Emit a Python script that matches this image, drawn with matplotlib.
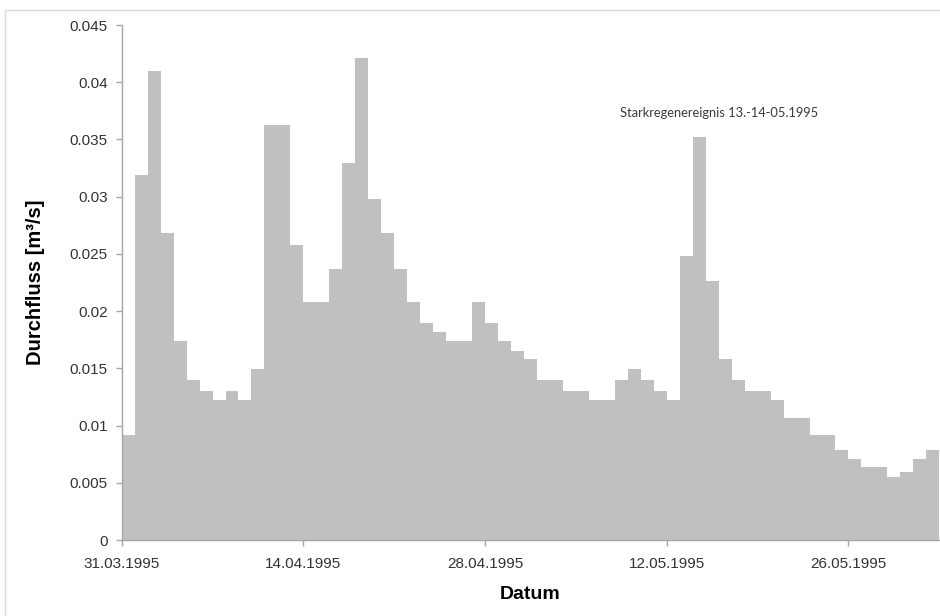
import numpy as np
import pandas as pd
import matplotlib
matplotlib.use('Agg')
import matplotlib.pyplot as plt
import matplotlib.dates as mdates
from matplotlib.patches import Rectangle

# daily discharge, 31.03.1995 - 01.06.1995
start_date = '1995-03-31'
durchfluss = [0.0092, 0.0319, 0.0410, 0.0268, 0.0174, 0.0140, 0.0130, 0.0122, 0.0130, 0.0122,
              0.0149, 0.0363, 0.0363, 0.0258, 0.0208, 0.0208, 0.0237, 0.0329, 0.0421, 0.0298,
              0.0268, 0.0237, 0.0208, 0.0190, 0.0182, 0.0174, 0.0174, 0.0208, 0.0190, 0.0174,
              0.0165, 0.0158, 0.0140, 0.0140, 0.0130, 0.0130, 0.0122, 0.0122, 0.0140, 0.0149,
              0.0140, 0.0130, 0.0122, 0.0248, 0.0352, 0.0226, 0.0158, 0.0140, 0.0130, 0.0130,
              0.0122, 0.0107, 0.0107, 0.0092, 0.0092, 0.0079, 0.0071, 0.0064, 0.0064, 0.0055,
              0.0059, 0.0071, 0.0079]
tick_dates = ['1995-03-31', '1995-04-14', '1995-04-28', '1995-05-12', '1995-05-26']
y_ticks = [0, 0.005, 0.01, 0.015, 0.02, 0.025, 0.03, 0.035, 0.04, 0.045]
y_labels = ['0', '0.005', '0.01', '0.015', '0.02', '0.025', '0.03', '0.035', '0.04', '0.045']
annot = 'Starkregenereignis 13.-14-05.1995'

plt.rcParams['font.family'] = ['Liberation Sans', 'DejaVu Sans']

dates = pd.date_range(start_date, periods=len(durchfluss), freq='D')
x = mdates.date2num(dates)

fig = plt.figure(figsize=(9.4, 6.16), dpi=100)
ax = fig.add_axes([121.7 / 940, 1 - 540 / 616, (939.3 - 121.7) / 940, 515 / 616])

ax.bar(x, durchfluss, width=1.0, align='edge', color='#c0c0c0',
       linewidth=0, antialiased=False)

ax.set_xlim(x[0], x[-1] + 1)
ax.set_ylim(0, 0.045)
ax.set_yticks(y_ticks)
ax.set_yticklabels(y_labels)
ax.set_xticks(mdates.date2num(pd.to_datetime(tick_dates)))
ax.xaxis.set_major_formatter(mdates.DateFormatter('%d.%m.%Y'))

for s in ['top', 'right']:
    ax.spines[s].set_visible(False)
for s in ['left', 'bottom']:
    ax.spines[s].set_color('#a6a6a6')
    ax.spines[s].set_linewidth(1.0)
ax.tick_params(axis='both', colors='#a6a6a6', length=4, width=1,
               labelcolor='#333333', labelsize=11)
ax.tick_params(axis='y', pad=6)
ax.tick_params(axis='x', pad=8)

ax.set_ylabel('Durchfluss [m³/s]', fontsize=14.5, fontweight='bold', labelpad=18)
ax.set_xlabel('Datum', fontsize=14, fontweight='bold', labelpad=11)

ax.text(0.609, 0.829, annot, transform=ax.transAxes, ha='left', va='center',
        fontsize=9.3, family=['Lato', 'DejaVu Sans'], color='#3a3a3a')

# chart area border
fig.patches.append(Rectangle((5 / 940, -0.05), 1.2, 1.05 - 10 / 616,
                             transform=fig.transFigure, fill=False,
                             edgecolor='#d9d9d9', linewidth=1.0))

fig.savefig('out.png', dpi=100)
